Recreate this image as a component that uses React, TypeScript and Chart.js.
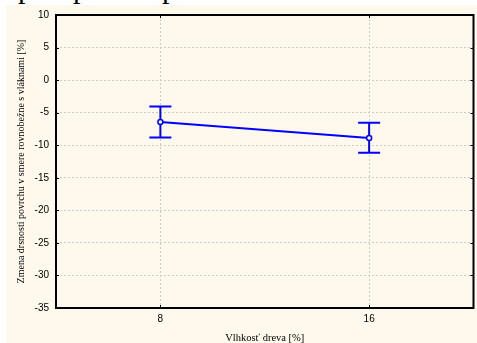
import React, { useEffect, useRef } from 'react';
import { Chart, registerables } from 'chart.js';

Chart.register(...registerables);

const categories = ['8', '16'];
const means = [-6.45, -8.9];
const upperBounds = [-4.05, -6.55];
const lowerBounds = [-8.8, -11.15];
const yMin = -35;
const yMax = 10;
const yStep = 5;
const xTitle = 'Vlhkosť dreva [%]';
const yTitle = 'Zmena drsnosti povrchu v smere rovnobežne s vláknami [%]';

const BLUE = '#0000ff';

const errorBarPlugin = {
  id: 'errorBars',
  beforeDatasetsDraw(chart: any) {
    const ctx = chart.ctx;
    const xs = chart.scales.x;
    const ys = chart.scales.y;
    ctx.save();
    ctx.strokeStyle = BLUE;
    ctx.lineWidth = 2;
    const cap = 11;
    for (let i = 0; i < categories.length; i++) {
      const x = xs.getPixelForValue(i);
      const yu = ys.getPixelForValue(upperBounds[i]);
      const yl = ys.getPixelForValue(lowerBounds[i]);
      ctx.beginPath();
      ctx.moveTo(x, yu);
      ctx.lineTo(x, yl);
      ctx.moveTo(x - cap, yu);
      ctx.lineTo(x + cap, yu);
      ctx.moveTo(x - cap, yl);
      ctx.lineTo(x + cap, yl);
      ctx.stroke();
    }
    ctx.restore();
  },
};

const framePlugin = {
  id: 'frame',
  afterDraw(chart: any) {
    const ctx = chart.ctx;
    const { left, right, top, bottom } = chart.chartArea;
    const xs = chart.scales.x;
    const ys = chart.scales.y;
    ctx.save();
    ctx.strokeStyle = '#000';
    ctx.lineWidth = 1;
    const t = 3;
    ctx.beginPath();
    ys.ticks.forEach((tk: any) => {
      const y = Math.round(ys.getPixelForValue(tk.value)) + 0.5;
      ctx.moveTo(left, y);
      ctx.lineTo(left + t, y);
      ctx.moveTo(right, y);
      ctx.lineTo(right - t, y);
    });
    for (let i = 0; i < categories.length; i++) {
      const x = Math.round(xs.getPixelForValue(i)) + 0.5;
      ctx.moveTo(x, top);
      ctx.lineTo(x, top + t);
      ctx.moveTo(x, bottom);
      ctx.lineTo(x, bottom - t);
    }
    ctx.stroke();
    ctx.lineWidth = 2;
    ctx.strokeRect(left, top, right - left, bottom - top);
    ctx.restore();
  },
};

export default function App() {
  const canvasRef = useRef<HTMLCanvasElement | null>(null);

  useEffect(() => {
    if (!canvasRef.current) return;
    const chart = new Chart(canvasRef.current, {
      type: 'line',
      data: {
        labels: categories,
        datasets: [
          {
            data: means,
            borderColor: BLUE,
            borderWidth: 2,
            pointRadius: 2.5,
            pointBorderWidth: 1.5,
            pointBackgroundColor: '#ffffff',
            pointBorderColor: BLUE,
            tension: 0,
          },
        ],
      },
      options: {
        animation: false,
        responsive: true,
        maintainAspectRatio: false,
        layout: { padding: { left: 0, top: 0, right: 0, bottom: 0 } },
        plugins: {
          legend: { display: false },
          tooltip: { enabled: false },
        },
        scales: {
          x: {
            type: 'category',
            offset: true,
            afterFit(scale: any) {
              scale.height = 35;
            },
            grid: {
              offset: false,
              color: '#cccccc',
              lineWidth: 1,
              drawTicks: false,
            } as any,
            border: { display: false, dash: [2, 2] },
            ticks: {
              padding: 5,
              color: '#000',
              font: { family: '"Liberation Sans", Arial, sans-serif', size: 10 },
            },
            title: {
              display: true,
              text: xTitle,
              color: '#000',
              padding: { top: 0, bottom: -2 },
              font: { family: '"Liberation Serif", "Times New Roman", serif', size: 10.5 },
            },
          },
          y: {
            min: yMin,
            max: yMax,
            afterFit(scale: any) {
              scale.width = 50;
            },
            grid: {
              color: '#cccccc',
              lineWidth: 1,
              drawTicks: false,
            },
            border: { display: false, dash: [2, 2] },
            ticks: {
              stepSize: yStep,
              padding: 7,
              color: '#000',
              font: { family: '"Liberation Sans", Arial, sans-serif', size: 10 },
            },
            title: {
              display: true,
              text: yTitle,
              color: '#000',
              padding: { top: 9, bottom: 0 },
              font: { family: '"Liberation Serif", "Times New Roman", serif', size: 10 },
            },
          },
        },
      },
      plugins: [errorBarPlugin, framePlugin],
    });
    return () => chart.destroy();
  }, []);

  const glyphStyle: React.CSSProperties = {
    position: 'absolute',
    top: -27,
    fontFamily: '"Liberation Serif", "Times New Roman", serif',
    fontSize: 30,
    lineHeight: '30px',
    color: '#000',
  };

  return (
    <div
      style={{
        position: 'fixed',
        left: 0,
        top: 0,
        width: 477,
        height: 343,
        background: '#ffffff',
        overflow: 'hidden',
      }}
    >
      <div style={{ position: 'absolute', left: 0, top: 0, width: 477, height: 5, overflow: 'hidden' }}>
        <span style={{ ...glyphStyle, left: 18 }}>p</span>
        <span style={{ ...glyphStyle, left: 73 }}>p</span>
        <span style={{ ...glyphStyle, left: 162 }}>p</span>
      </div>
      <div
        style={{
          position: 'absolute',
          left: 6,
          top: 5,
          width: 471,
          height: 338,
          background: '#fef9ec',
        }}
      />
      <div
        style={{
          position: 'absolute',
          left: 6,
          top: 2,
          width: 473,
          height: 341,
        }}
      >
        <canvas ref={canvasRef} />
      </div>
    </div>
  );
}
